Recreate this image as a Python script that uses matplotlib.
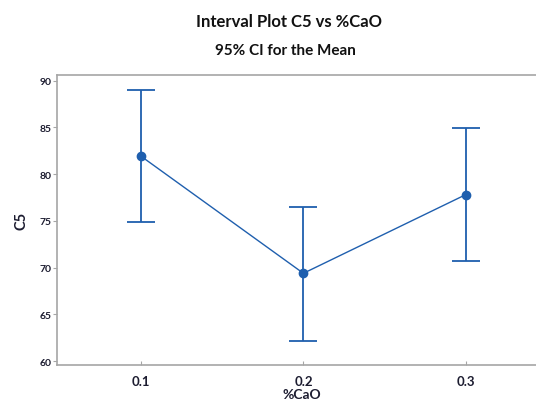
import matplotlib.pyplot as plt

# data
cao = [0.1, 0.2, 0.3]
means = [81.9, 69.4, 77.8]
upper = [89.0, 76.5, 84.9]
lower = [74.9, 62.2, 70.7]

blue = '#1f5fae'
grey = '#a6a6a6'
txt = '#1c1c30'

plt.rcParams['font.family'] = ['Lato', 'DejaVu Sans']

fig = plt.figure(figsize=(5.36, 4.06), dpi=100, facecolor='white')
# right edge runs past the figure, as in the reference
ax = fig.add_axes([0.106, 0.0985, 0.914, 0.7145])

err_lo = [m - l for m, l in zip(means, lower)]
err_hi = [u - m for m, u in zip(means, upper)]

ax.errorbar(cao, means, yerr=[err_lo, err_hi], fmt='none', ecolor=blue,
            elinewidth=1.3, capsize=10, capthick=1.3)
ax.plot(cao, means, color=blue, linewidth=1.0, marker='o', markersize=6)

ax.set_xlim(0.048, 0.35)
ax.set_ylim(59.6, 90.6)
ax.set_xticks(cao)
ax.set_xticklabels(['0.1', '0.2', '0.3'])
ax.set_yticks([60, 65, 70, 75, 80, 85, 90])

for s in ax.spines.values():
    s.set_color(grey)
    s.set_linewidth(1.2)
ax.tick_params(axis='y', colors=grey, labelcolor=txt, labelsize=7.5, length=3, width=0.8, pad=1)
ax.tick_params(axis='x', direction='in', colors=grey, labelcolor=txt, labelsize=9.5,
               length=3, width=0.8, pad=7)
for lab in ax.get_xticklabels() + ax.get_yticklabels():
    lab.set_fontweight('bold')

ax.set_xlabel('%CaO', fontsize=10, fontweight='bold', color=txt, labelpad=1)
ax.set_ylabel('C5', fontsize=10.5, fontweight='bold', color=txt, labelpad=8)

fig.text(0.54, 0.945, 'Interval Plot C5 vs %CaO', ha='center', va='center',
         fontsize=12, fontweight='bold', color='#111111')
fig.text(0.532, 0.874, '95% CI for the Mean', ha='center', va='center',
         fontsize=11, fontweight='bold', color='#111111')

fig.savefig('out.png', dpi=100)
